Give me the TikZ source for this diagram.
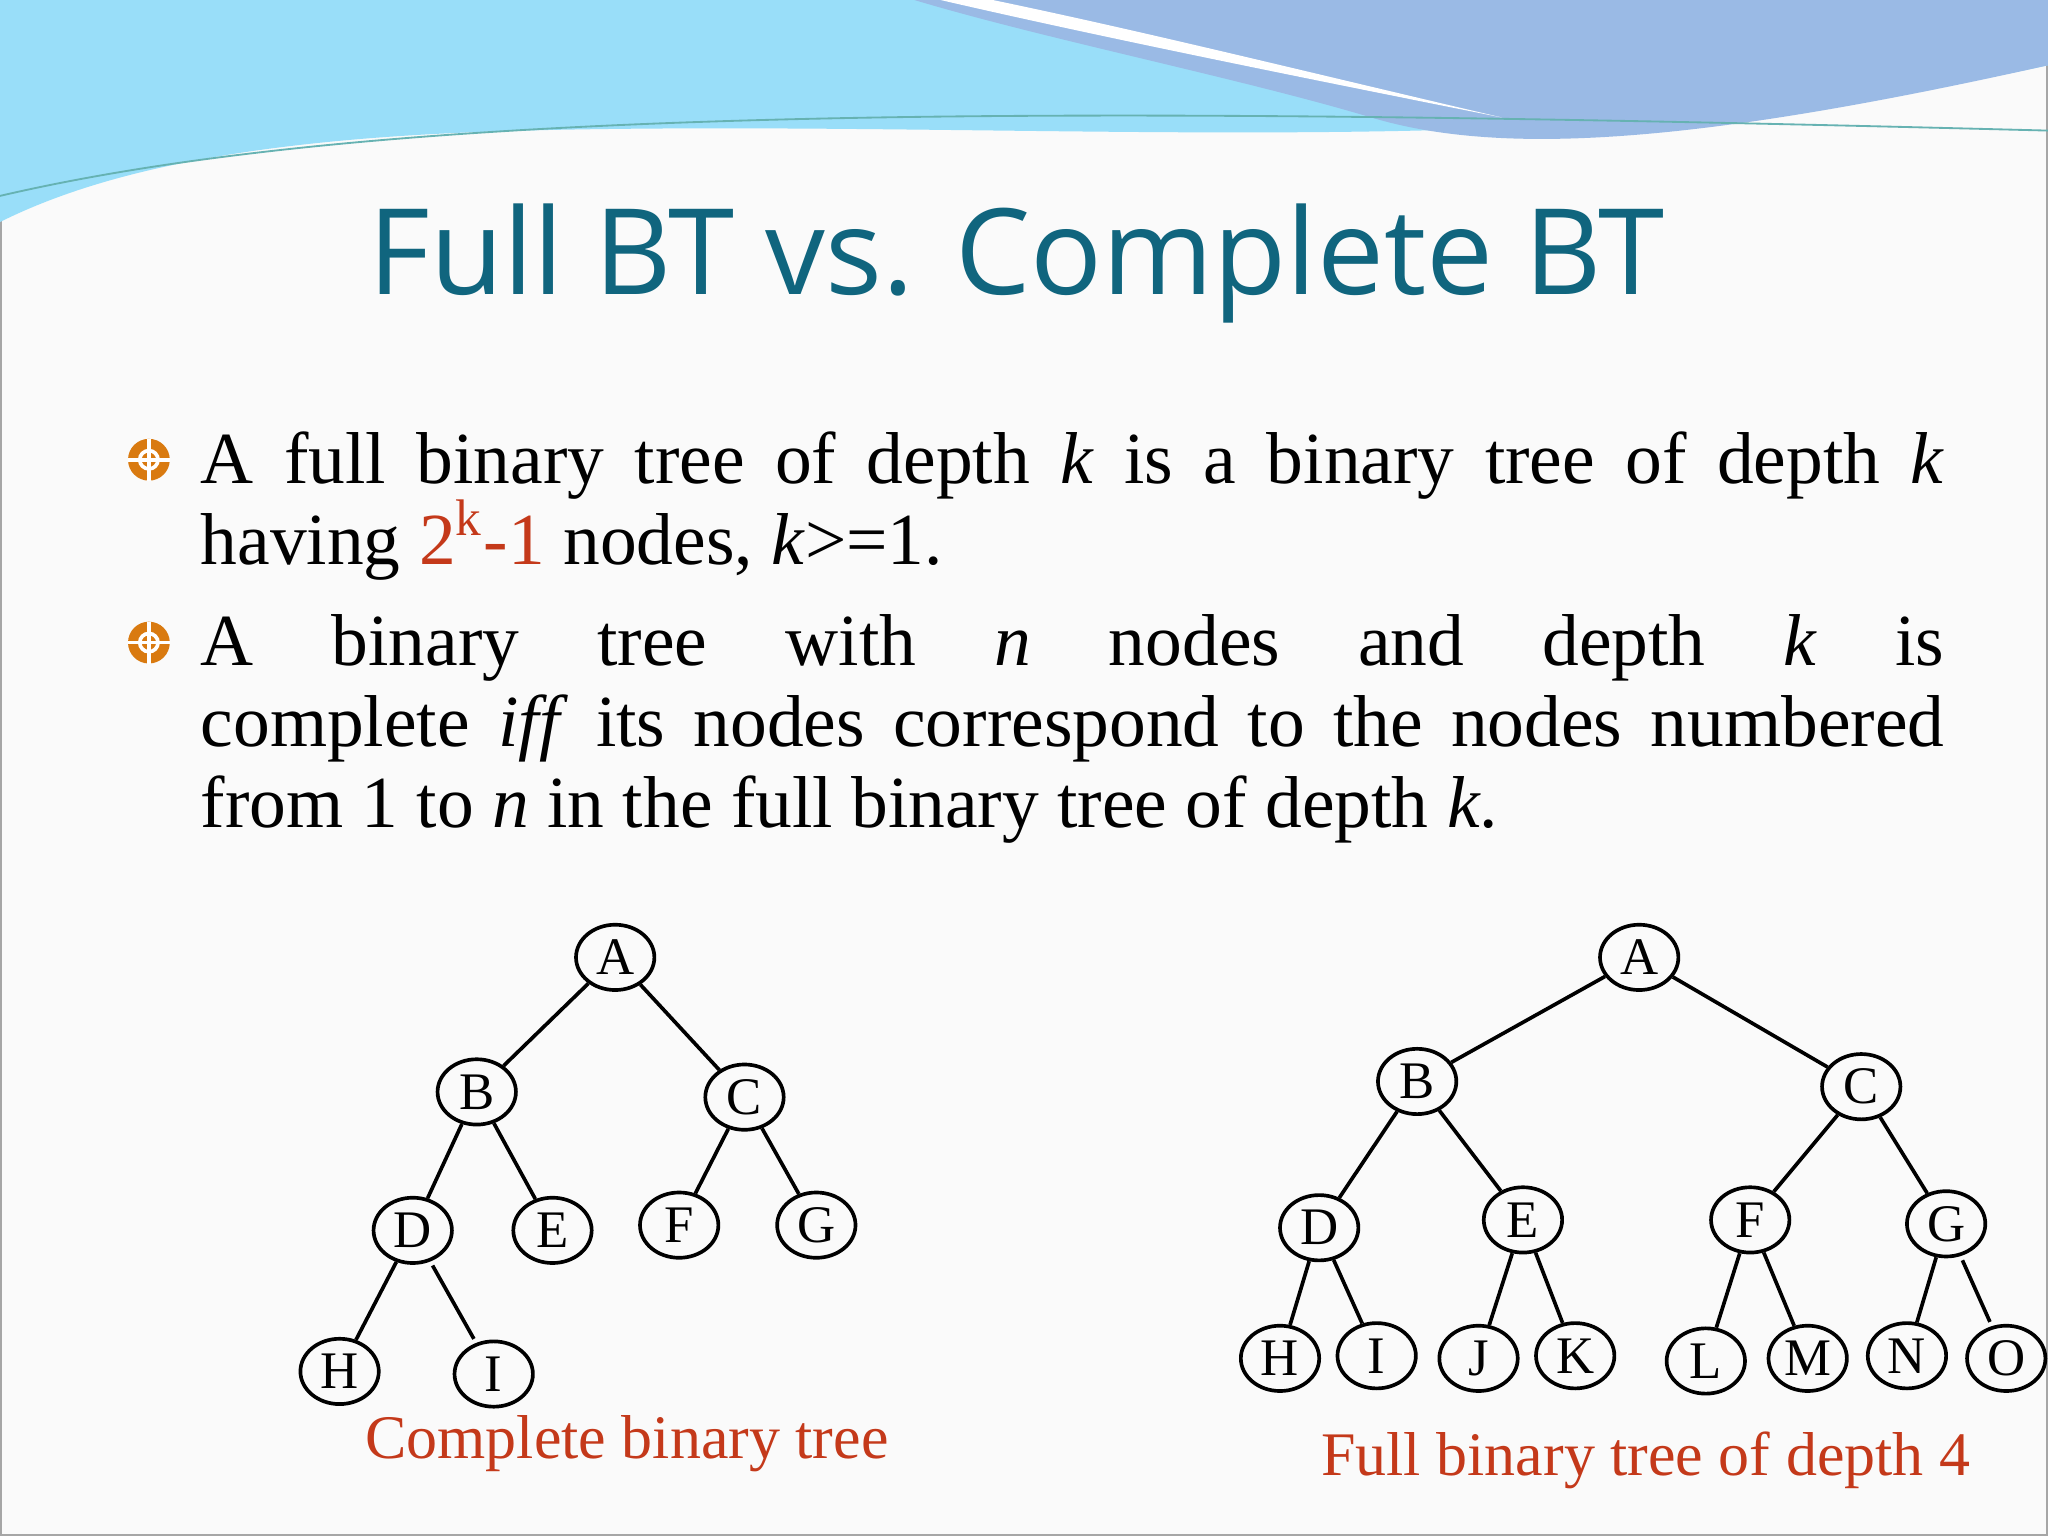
\documentclass[tikz,border=0pt]{standalone}
\usepackage{fontspec}
\setmainfont{Liberation Serif}
\newfontfamily\titlefont{Open Sans}
\usetikzlibrary{shapes.geometric}
\definecolor{titleteal}{HTML}{10657E}
\definecolor{accent}{HTML}{C4391A}
\definecolor{bulletorange}{HTML}{D97A10}
\tikzset{
  tnode/.style={ellipse,draw,thick,minimum width=0.6cm,minimum height=0.5cm,inner sep=0pt,font=\fontsize{11.5}{11.5}\selectfont},
  tedge/.style={draw,thick,shorten <=1pt,shorten >=1pt},
  caption/.style={text=accent,font=\fontsize{13.5}{13.5}\selectfont},
  bodytext/.style={anchor=north west,text width=13.35cm,align=justify,inner sep=0pt,font=\fontsize{16}{17.6}\selectfont}
}
\newcommand{\slidebullet}[1]{%
  \fill[bulletorange] #1 circle (0.16);
  \draw[white,line width=0.8pt] #1 circle (0.07);
  \draw[white,line width=0.8pt] ($#1+(-0.16,0)$) -- ($#1+(0.16,0)$) ($#1+(0,-0.16)$) -- ($#1+(0,0.16)$);}
\usetikzlibrary{calc}
\begin{document}
\begin{tikzpicture}
  \useasboundingbox (0,0) rectangle (15.68,-11.76);
  \fill[white!96!gray] (0,0) rectangle (15.68,-11.76);
  \draw[gray!70] (0.01,-0.01) rectangle (15.67,-11.75);
  % top wave
  \fill[cyan!40] (0,0) -- (15.68,0) -- (15.68,-0.5) .. controls (12,-1.3) and (8,-0.9) .. (4,-1.0) .. controls (2,-1.05) and (0.8,-1.3) .. (0,-1.7) -- cycle;
  \fill[cyan!55!blue!40] (7,0) -- (15.68,0) -- (15.68,-0.5) .. controls (13,-1.1) and (11.5,-1.2) .. (10.5,-0.9) .. controls (9.5,-0.6) and (8,-0.3) .. (7,0) -- cycle;
  \fill[white] (7.2,0) .. controls (8.5,-0.3) and (10,-0.6) .. (11.5,-0.9) .. controls (10,-0.55) and (8.8,-0.25) .. (7.6,0) -- cycle;
  \draw[teal!60] (0,-1.5) .. controls (3,-0.8) and (8,-0.8) .. (15.68,-1.0);
  % title
  \node[text=titleteal,font=\titlefont\fontsize{26}{26}\selectfont] (title) at (7.78,-2.02) {Full BT vs. Complete BT};
  % bullets
  \slidebullet{(1.14,-3.52)}
  \slidebullet{(1.14,-4.92)}
  \node[bodytext] (def1) at (1.53,-3.30)
    {A full binary tree of depth \textit{k} is a binary tree of depth \textit{k}\linebreak having \textcolor{accent}{2\textsuperscript{k}-1} nodes, \textit{k}>=1.};
  \node[bodytext] (def2) at (1.53,-4.70)
    {A binary tree with \textit{n} nodes and depth \textit{k} is\linebreak complete \textit{iff} its nodes correspond to the nodes numbered from 1 to \textit{n} in the full binary tree of depth \textit{k}.};
  % complete binary tree
  \begin{scope}[every node/.style={tnode}]
    \node (cA) at (4.71,-7.33) {A};
    \node (cB) at (3.65,-8.36) {B};
    \node (cC) at (5.70,-8.40) {C};
    \node (cD) at (3.16,-9.42) {D};
    \node (cE) at (4.23,-9.42) {E};
    \node (cF) at (5.20,-9.38) {F};
    \node (cG) at (6.25,-9.38) {G};
    \node (cH) at (2.60,-10.50) {H};
    \node (cI) at (3.78,-10.52) {I};
  \end{scope}
  \path[tedge] (cA) -- (cB) (cA) -- (cC) (cB) -- (cD) (cB) -- (cE)
    (cC) -- (cF) (cC) -- (cG) (cD) -- (cH) (cD) -- (cI);
  \node[caption] (ccap) at (4.80,-11.05) {Complete binary tree};
  % full binary tree
  \begin{scope}[every node/.style={tnode}]
    \node (fA) at (12.55,-7.33) {A};
    \node (fB) at (10.85,-8.28) {B};
    \node (fC) at (14.25,-8.32) {C};
    \node (fD) at (10.10,-9.40) {D};
    \node (fE) at (11.66,-9.34) {E};
    \node (fF) at (13.40,-9.34) {F};
    \node (fG) at (14.90,-9.37) {G};
    \node (fH) at (9.80,-10.40) {H};
    \node (fI) at (10.54,-10.38) {I};
    \node (fJ) at (11.32,-10.40) {J};
    \node (fK) at (12.06,-10.38) {K};
    \node (fL) at (13.06,-10.42) {L};
    \node (fM) at (13.84,-10.40) {M};
    \node (fN) at (14.60,-10.38) {N};
    \node (fO) at (15.36,-10.40) {O};
  \end{scope}
  \path[tedge] (fA) -- (fB) (fA) -- (fC) (fB) -- (fD) (fB) -- (fE)
    (fC) -- (fF) (fC) -- (fG) (fD) -- (fH) (fD) -- (fI) (fE) -- (fJ) (fE) -- (fK)
    (fF) -- (fL) (fF) -- (fM) (fG) -- (fN) (fG) -- (fO);
  \node[caption] (fcap) at (12.60,-11.18) {Full binary tree of depth 4};
\end{tikzpicture}
\end{document}
